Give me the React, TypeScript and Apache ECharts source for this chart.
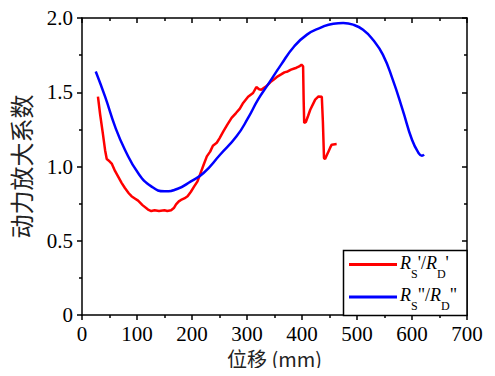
import React, { useEffect, useRef } from "react";
import * as echarts from "echarts";

const xTicks = [0, 100, 200, 300, 400, 500, 600, 700];
const yTicks = [0, 0.5, 1.0, 1.5, 2.0];

const redX = [29, 33, 38, 42, 45, 50, 54, 60, 66, 72, 78, 85, 90, 96, 102, 110, 120, 126, 132, 140, 150, 155, 162, 167, 171, 176, 180, 186, 192, 198, 204, 210, 215, 221, 227, 233, 238, 245, 250, 257, 264, 272, 280, 287, 293, 302, 311, 317, 322, 326, 331, 335, 344, 350, 356, 362, 368, 374, 380, 386, 390, 395, 399, 402, 403, 404, 407, 411, 415, 420, 424, 430, 436, 438, 440, 442, 445, 448, 451, 454, 463];
const redY = [1.47, 1.35, 1.22, 1.11, 1.05, 1.035, 1.02, 0.97, 0.93, 0.89, 0.855, 0.82, 0.8, 0.785, 0.77, 0.74, 0.71, 0.7, 0.705, 0.7, 0.705, 0.7, 0.705, 0.72, 0.745, 0.765, 0.775, 0.785, 0.8, 0.83, 0.866, 0.9, 0.95, 1.01, 1.068, 1.1, 1.14, 1.16, 1.19, 1.236, 1.28, 1.327, 1.36, 1.39, 1.428, 1.47, 1.495, 1.535, 1.52, 1.517, 1.53, 1.54, 1.573, 1.59, 1.607, 1.62, 1.634, 1.64, 1.652, 1.66, 1.665, 1.674, 1.686, 1.674, 1.45, 1.293, 1.3, 1.34, 1.382, 1.42, 1.45, 1.472, 1.47, 1.3, 1.057, 1.05, 1.075, 1.1, 1.125, 1.147, 1.151];

const blueX = [25, 42, 60, 78, 102, 126, 150, 174, 198, 221, 251, 281, 302, 320, 338, 362, 386, 409, 433, 457, 475, 493, 511, 529, 547, 565, 583, 600, 612, 618, 622];
const blueY = [1.64, 1.47, 1.27, 1.113, 0.956, 0.866, 0.833, 0.85, 0.9, 0.956, 1.079, 1.203, 1.327, 1.45, 1.551, 1.686, 1.81, 1.888, 1.933, 1.962, 1.966, 1.955, 1.921, 1.854, 1.753, 1.585, 1.382, 1.18, 1.091, 1.073, 1.08];

const seriesNames = ["Rs'/RD'", 'Rs"/RD"'];
const xTitle = "位移 (mm)";
const yTitle = "动力放大系数";

const SERIF = "Liberation Serif";
const CJK = "Noto Sans CJK SC";

export default function App() {
  const ref = useRef<HTMLDivElement>(null);
  useEffect(() => {
    if (!ref.current) return;
    const chart = echarts.init(ref.current, undefined, { renderer: "svg" });
    const lineC = { color: "#000", width: 1.5 };
    const baseX = {
      type: "value",
      min: xTicks[0],
      max: xTicks[xTicks.length - 1],
      interval: 100,
      splitLine: { show: false },
      axisLine: { show: true, onZero: false, lineStyle: lineC },
    };
    const baseY = {
      type: "value",
      min: yTicks[0],
      max: yTicks[yTicks.length - 1],
      interval: 0.5,
      splitLine: { show: false },
      axisLine: { show: true, onZero: false, lineStyle: lineC },
    };
    const rich = {
      i: { fontFamily: SERIF, fontStyle: "italic", fontSize: 18, lineHeight: 20, verticalAlign: "top", color: "#000" },
      n: { fontFamily: SERIF, fontSize: 18, lineHeight: 20, verticalAlign: "top", color: "#000" },
      s: { fontFamily: SERIF, fontSize: 12, lineHeight: 12, verticalAlign: "top", padding: [14, 0, 0, 0], color: "#000" },
    };
    const option: any = {
      animation: false,
      grid: { left: 76, right: 28, top: 18, bottom: 61, containLabel: false },
      xAxis: [
        {
          ...baseX,
          position: "bottom",
          name: xTitle,
          nameLocation: "middle",
          nameGap: 29,
          nameTextStyle: { fontFamily: CJK, fontSize: 20, color: "#222" },
          axisTick: { show: true, inside: false, length: 5, lineStyle: lineC },
          minorTick: { show: true, splitNumber: 2, length: 3, lineStyle: lineC },
          axisLabel: { show: true, margin: 8, fontFamily: SERIF, fontSize: 21, color: "#000" },
        },
        {
          ...baseX,
          position: "top",
          axisTick: { show: true, inside: true, length: 5, lineStyle: lineC },
          minorTick: { show: true, splitNumber: 2, length: 3, lineStyle: lineC },
          axisLabel: { show: false },
        },
      ],
      yAxis: [
        {
          ...baseY,
          position: "left",
          name: yTitle,
          nameLocation: "middle",
          nameGap: 50,
          nameRotate: 90,
          nameTextStyle: { fontFamily: CJK, fontSize: 24, color: "#222" },
          axisTick: { show: true, inside: false, length: 5, lineStyle: lineC },
          minorTick: { show: true, splitNumber: 2, length: 3, lineStyle: lineC },
          axisLabel: {
            show: true,
            margin: 9,
            fontFamily: SERIF,
            fontSize: 21,
            color: "#000",
            formatter: (v: number) => (v === 0 ? "0" : v.toFixed(1)),
          },
        },
        {
          ...baseY,
          position: "right",
          axisTick: { show: true, inside: true, length: 5, lineStyle: lineC },
          minorTick: { show: true, splitNumber: 2, length: 3, lineStyle: lineC },
          axisLabel: { show: false },
        },
      ],
      series: [
        {
          name: seriesNames[0],
          type: "line",
          xAxisIndex: 0,
          yAxisIndex: 0,
          showSymbol: false,
          symbol: "none",
          lineStyle: { color: "#ff0000", width: 2.5 },
          itemStyle: { color: "#ff0000" },
          data: redX.map((x, i) => [x, redY[i]]),
        },
        {
          name: seriesNames[1],
          type: "line",
          xAxisIndex: 0,
          yAxisIndex: 0,
          showSymbol: false,
          symbol: "none",
          smooth: true,
          lineStyle: { color: "#0000ff", width: 2.5 },
          itemStyle: { color: "#0000ff" },
          data: blueX.map((x, i) => [x, blueY[i]]),
        },
      ],
      graphic: [
        {
          type: "rect",
          shape: { x: 343.5, y: 250.5, width: 123.5, height: 65 },
          style: { fill: "#fff", stroke: "#000", lineWidth: 1.5 },
          z: 10,
        },
        {
          type: "line",
          shape: { x1: 349, y1: 264.5, x2: 397, y2: 264.5 },
          style: { stroke: "#ff0000", lineWidth: 3 },
          z: 11,
        },
        {
          type: "line",
          shape: { x1: 349, y1: 297, x2: 397, y2: 297 },
          style: { stroke: "#0000ff", lineWidth: 3 },
          z: 11,
        },
        {
          type: "text",
          x: 400,
          y: 254,
          z: 11,
          style: {
            text: "{i|R}{s|S}{n|'/}{i|R}{s|D}{n|'}",
            align: "left",
            verticalAlign: "top",
            rich,
          },
        },
        {
          type: "text",
          x: 400,
          y: 286,
          z: 11,
          style: {
            text: '{i|R}{s|S}{n|"/}{i|R}{s|D}{n|"}',
            align: "left",
            verticalAlign: "top",
            rich,
          },
        },
      ],
    };
    chart.setOption(option);
    return () => chart.dispose();
  }, []);
  return <div ref={ref} style={{ width: 495, height: 376, margin: -8 }} />;
}
